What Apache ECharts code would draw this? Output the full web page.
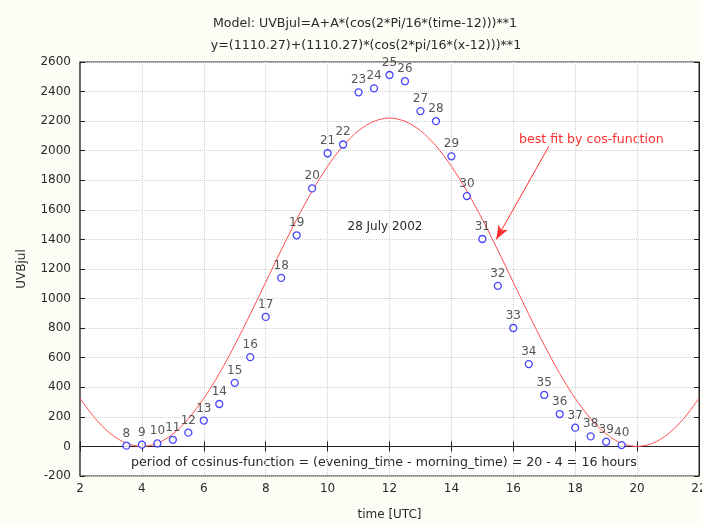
<!DOCTYPE html>
<html>
<head>
<meta charset="utf-8">
<script src="https://cdn.jsdelivr.net/npm/echarts@6/dist/echarts.min.js"></script>
<style>
html,body{margin:0;padding:0;background:#fdfdf6;}
#c{width:702px;height:526px;}
</style>
</head>
<body>
<div id="c"></div>
<script>
// Measured observations (hour index, time in UTC, UVB value)
var pointIds   = [8,9,10,11,12,13,14,15,16,17,18,19,20,21,22,23,24,25,26,27,28,29,30,31,32,33,34,35,36,37,38,39,40];
var pointTimes = [3.5,4,4.5,5,5.5,6,6.5,7,7.5,8,8.5,9,9.5,10,10.5,11,11.5,12,12.5,13,13.5,14,14.5,15,15.5,16,16.5,17,17.5,18,18.5,19,19.5];
var pointVals  = [5,12,20,45,93,175,287,430,604,876,1140,1428,1745,1983,2042,2395,2422,2512,2470,2268,2200,1962,1693,1403,1086,801,557,348,219,127,68,32,9];

// Fitted curve
var curveX = [2,2.5,3,3.5,4,4.5,5,5.5,6,6.5,7,7.5,8,8.5,9,9.5,10,10.5,11,11.5,12,12.5,13,13.5,14,14.5,15,15.5,16,16.5,17,17.5,18,18.5,19,19.5,20,20.5,21,21.5,22];
var curveY = [325,187,84,21,0,21,84,187,325,493,685,894,1110,1327,1535,1727,1895,2033,2136,2199,2221,2199,2136,2033,1895,1727,1535,1327,1110,894,685,493,325,187,84,21,0,21,84,187,325];

var xTicks = [2,4,6,8,10,12,14,16,18,20,22];
var yTicks = [-200,0,200,400,600,800,1000,1200,1400,1600,1800,2000,2200,2400,2600];

var chart = echarts.init(document.getElementById('c'), null, {renderer:'canvas'});
var FONT = '"DejaVu Sans", sans-serif';
var FS = 12;
var FT = 12.6;

var pts = pointTimes.map(function(t,i){ return [t, pointVals[i], pointIds[i]]; });
var curve = curveX.map(function(x,i){ return [x, curveY[i]]; });

var gridLine = {show:true, lineStyle:{color:'#d0d0d0', type:[1,1], width:1}};
var plain = function(v){ return String(v); };

chart.setOption({
  backgroundColor:'#fdfdf6',
  animation:false,
  title:[
    {text:'Model: UVBjul=A+A*(cos(2*Pi/16*(time-12)))**1', left:360, top:12, textAlign:'center',
     textStyle:{fontFamily:FONT, fontSize:FT, fontWeight:'normal', color:'#2a2a2a'}},
    {text:'y=(1110.27)+(1110.27)*(cos(2*pi/16*(x-12)))**1', left:361, top:34, textAlign:'center',
     textStyle:{fontFamily:FONT, fontSize:FT, fontWeight:'normal', color:'#2a2a2a'}}
  ],
  grid:{left:80, right:3, top:62, bottom:50, show:true, backgroundColor:'#ffffff', borderColor:'#222', borderWidth:1,
        outerBoundsMode:'none', containLabel:false},
  xAxis:[
    {type:'value', min:xTicks[0], max:xTicks[xTicks.length-1], interval:2,
     name:'time [UTC]', nameLocation:'middle', nameGap:33,
     nameTextStyle:{fontFamily:FONT, fontSize:FS, color:'#2a2a2a'},
     axisLine:{show:true, lineStyle:{color:'#222'}},
     axisTick:{show:true, inside:true, length:5, lineStyle:{color:'#222'}},
     axisLabel:{fontFamily:FONT, fontSize:FS, color:'#2a2a2a', margin:7, formatter:plain},
     splitLine:gridLine},
    {type:'value', position:'top', min:xTicks[0], max:xTicks[xTicks.length-1], interval:2,
     axisLine:{show:true, lineStyle:{color:'#222'}},
     axisTick:{show:true, inside:true, length:5, lineStyle:{color:'#222'}},
     axisLabel:{show:false}, splitLine:{show:false}}
  ],
  yAxis:[
    {type:'value', min:yTicks[0], max:yTicks[yTicks.length-1], interval:200,
     name:'UVBjul', nameLocation:'middle', nameGap:52,
     nameTextStyle:{fontFamily:FONT, fontSize:FS, color:'#2a2a2a'},
     axisLine:{show:true, lineStyle:{color:'#555', width:1.5}},
     axisTick:{show:true, inside:true, length:5, lineStyle:{color:'#222'}},
     axisLabel:{fontFamily:FONT, fontSize:FS, color:'#2a2a2a', margin:9, formatter:plain},
     splitLine:gridLine},
    {type:'value', position:'right', min:yTicks[0], max:yTicks[yTicks.length-1], interval:200,
     axisLine:{show:true, lineStyle:{color:'#222'}},
     axisTick:{show:true, inside:true, length:5, lineStyle:{color:'#222'}},
     axisLabel:{show:false}, splitLine:{show:false}}
  ],
  series:[
    {type:'line', data:curve, showSymbol:false, smooth:0.3, clip:true,
     lineStyle:{color:'#ff4f4f', width:1}, z:2,
     markLine:{silent:true, symbol:['none','arrow'], symbolSize:[8,14],
       lineStyle:{color:'#ff3030', width:1, type:'solid'}, label:{show:false},
       data:[[{coord:[17.15,2030]},{coord:[15.45,1400]}]]}},
    {type:'scatter', data:pts, symbol:'circle', symbolSize:7, z:3,
     itemStyle:{color:'#ffffff', borderColor:'#1a1aff', borderWidth:1.3},
     label:{show:true, position:'top', distance:2, fontFamily:FONT, fontSize:FS, color:'#2a2a2a',
       formatter:function(p){return String(p.data[2]);}}}
  ],
  graphic:[
    {type:'text', x:385, y:227, style:{text:'28 July 2002', font:FS+'px '+FONT, fill:'#2a2a2a', textAlign:'center', textVerticalAlign:'middle'}},
    {type:'text', x:519, y:140, style:{text:'best fit by cos-function', font:FT+'px '+FONT, fill:'#ff3030', textAlign:'left', textVerticalAlign:'middle'}},
    {type:'text', x:131, y:463, style:{text:'period of cosinus-function = (evening_time - morning_time) = 20 - 4 = 16 hours', font:FT+'px '+FONT, fill:'#2a2a2a', textAlign:'left', textVerticalAlign:'middle'}}
  ]
});
</script>
</body>
</html>
